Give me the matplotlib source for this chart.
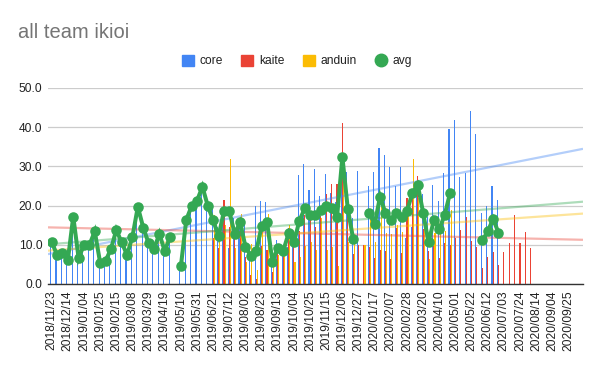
import numpy as np
import pandas as pd
import matplotlib
matplotlib.use('Agg')
import matplotlib.pyplot as plt
from matplotlib.patches import Patch
from matplotlib.lines import Line2D

plt.rcParams['font.family'] = ['Liberation Sans', 'DejaVu Sans']

# weekly data, starting 2018/11/23
start_date = '2018-11-23'
n_weeks = 99

core = [10.7, 7.4, 8.0, 6.1, 17.2, 6.6, 10.0, 10.0, 13.4, 5.4,
        5.9, 8.9, 13.8, 10.6, 7.4, 12.1, 19.7, 14.4, 10.4, 8.9,
        12.8, 8.4, 12.1, None, 4.6, 16.4, 19.9, 21.3, 24.8, 19.9,
        19.3, 14.6, 19.3, 9.1, 16.8, 14.6, 15.8, 9.1, 19.9, 21.2,
        20.9, 6.6, 11.1, 9.8, 9.4, 13.6, 27.8, 30.6, 24.0, 29.4,
        22.5, 28.1, 23.1, 21.0, 27.0, 28.5, 16.8, 28.9, None, 24.9,
        28.6, 34.7, 32.9, 29.8, 25.0, 29.8, 11.8, 14.6, 24.0, 22.9,
        17.0, 25.3, 21.2, 28.3, 39.6, 41.9, 27.3, 28.3, 44.2, 38.2,
        18.0, 19.8, 25.0, 21.4] + [None] * 15

kaite = [None] * 30 + [
        11.7, 9.1, 21.4, 14.5, 12.5, 14.6, 7.0, 2.3, 1.4, 9.8,
        8.7, 3.1, 9.5, 8.0, 14.2, 12.5, 13.5, 17.6, 18.0, 14.6,
        17.4, 22.9, 25.4, 25.4, 41.0, 18.5, 7.6, 10.0, 10.0, 9.5,
        6.6, 8.6, 8.4, 6.4, 14.2, 8.0, 21.9, 23.1, 27.6, 14.0,
        8.3, 9.6, 6.6, 10.4, 10.0, 11.7, 13.8, 17.2, 11.0, 9.5,
        4.0, 7.0, 8.2, 4.9, 8.1, 10.4, 17.6, 10.4, 13.3, 9.1] + [None] * 9

anduin = [None] * 30 + [
        17.6, 12.9, 15.1, 31.9, 9.1, 17.9, 5.7, 10.2, 3.6, 13.4,
        17.8, 7.4, 7.3, 7.4, 15.1, 5.7, 7.0, 9.7, 10.8, 8.8,
        16.8, 8.7, 9.4, 4.6, 29.2, 10.6, 10.1, None, 10.0, 18.5,
        10.7, 21.5, 13.0, 12.7, 15.1, 13.2, 20.0, 31.9, 22.0, 16.5,
        6.5, 13.0, 13.5, 13.5, 19.0] + [None] * 24

avg = [10.7, 7.4, 8.0, 6.1, 17.2, 6.6, 10.0, 10.0, 13.4, 5.4,
       5.9, 8.9, 13.8, 10.6, 7.4, 12.1, 19.7, 14.4, 10.4, 8.9,
       12.8, 8.4, 12.1, None, 4.6, 16.4, 19.9, 21.3, 24.8, 19.9,
       16.2, 12.2, 18.6, 18.5, 12.8, 15.7, 9.5, 7.2, 8.3, 14.8,
       15.8, 5.7, 9.3, 8.4, 12.9, 10.6, 16.1, 19.3, 17.6, 17.6,
       18.9, 19.9, 19.3, 17.0, 32.4, 19.2, 11.5, None, None, 18.1,
       15.3, 22.3, 18.1, 16.3, 18.1, 17.0, 18.6, 23.2, 25.3, 18.2,
       10.6, 16.3, 14.0, 17.6, 23.2, None, None, None, None, None,
       11.1, 13.4, 16.6, 13.1] + [None] * 15

colors = {'core': '#4285F4', 'kaite': '#EA4335', 'anduin': '#FBBC04', 'avg': '#34A853'}


def to_arr(vals):
    return np.array([np.nan if v is None else v for v in vals], dtype=float)


dates = pd.date_range(start_date, periods=n_weeks, freq='7D')
x = np.arange(n_weeks)
series = {'core': to_arr(core), 'kaite': to_arr(kaite), 'anduin': to_arr(anduin)}
avg_arr = to_arr(avg)

fig = plt.figure(figsize=(6, 3.71), dpi=100)
ax = fig.add_axes([48 / 600, 1 - 284 / 371, 535 / 600, 196 / 371])

bw = 0.2
for off, (name, vals) in zip([-0.2, 0.0, 0.2], series.items()):
    m = ~np.isnan(vals)
    ax.bar(x[m] + off, vals[m], width=bw, color=colors[name], linewidth=0, zorder=2)

# linear trendlines over the whole axis
xt = np.array([-0.7, 98.7])
for name, vals in list(series.items()) + [('avg', avg_arr)]:
    m = ~np.isnan(vals)
    k, b = np.polyfit(x[m], vals[m], 1)
    ax.plot(xt, k * xt + b, color=colors[name], lw=1.6, alpha=0.4, zorder=3,
            solid_capstyle='butt')

ax.plot(x, avg_arr, color=colors['avg'], lw=2.9, marker='o', markersize=7.6,
        markeredgewidth=0, solid_joinstyle='miter', zorder=4)

ax.set_xlim(-0.69, 98.7)
ax.set_ylim(0, 50)
ax.set_yticks(np.arange(0, 51, 10))
ax.set_yticklabels([f"{v:.1f}" for v in np.arange(0, 51, 10)])
ticks = x[::3]
ax.set_xticks(ticks)
ax.set_xticklabels([dates[i].strftime('%Y/%m/%d') for i in ticks], rotation=90)
ax.tick_params(axis='both', length=0, labelsize=8.64, colors='#222222')
ax.tick_params(axis='x', pad=4.5)
ax.tick_params(axis='y', pad=4)
ax.grid(axis='y', color='#cccccc', lw=0.9, zorder=0)
ax.set_axisbelow(True)
for s in ['top', 'right', 'left']:
    ax.spines[s].set_visible(False)
ax.spines['bottom'].set_color('#333333')
ax.spines['bottom'].set_linewidth(1.0)
ax.spines['bottom'].set_zorder(5)

fig.text(18 / 600, 1 - 38 / 371, 'all team ikioi', fontsize=14.5, color='#757575',
         va='baseline', ha='left')

handles = [Patch(color=colors['core']), Patch(color=colors['kaite']),
           Patch(color=colors['anduin']),
           Line2D([], [], marker='o', linestyle='', color=colors['avg'], markersize=9)]
fig.legend(handles, ['core', 'kaite', 'anduin', 'avg'], loc='center',
           bbox_to_anchor=(297 / 600, 1 - 61 / 371), ncol=4, frameon=False,
           fontsize=8.64, handlelength=1.0, handleheight=1.0, handletextpad=0.5,
           columnspacing=1.5, labelcolor='#222222')

fig.savefig('out.png', dpi=100)
